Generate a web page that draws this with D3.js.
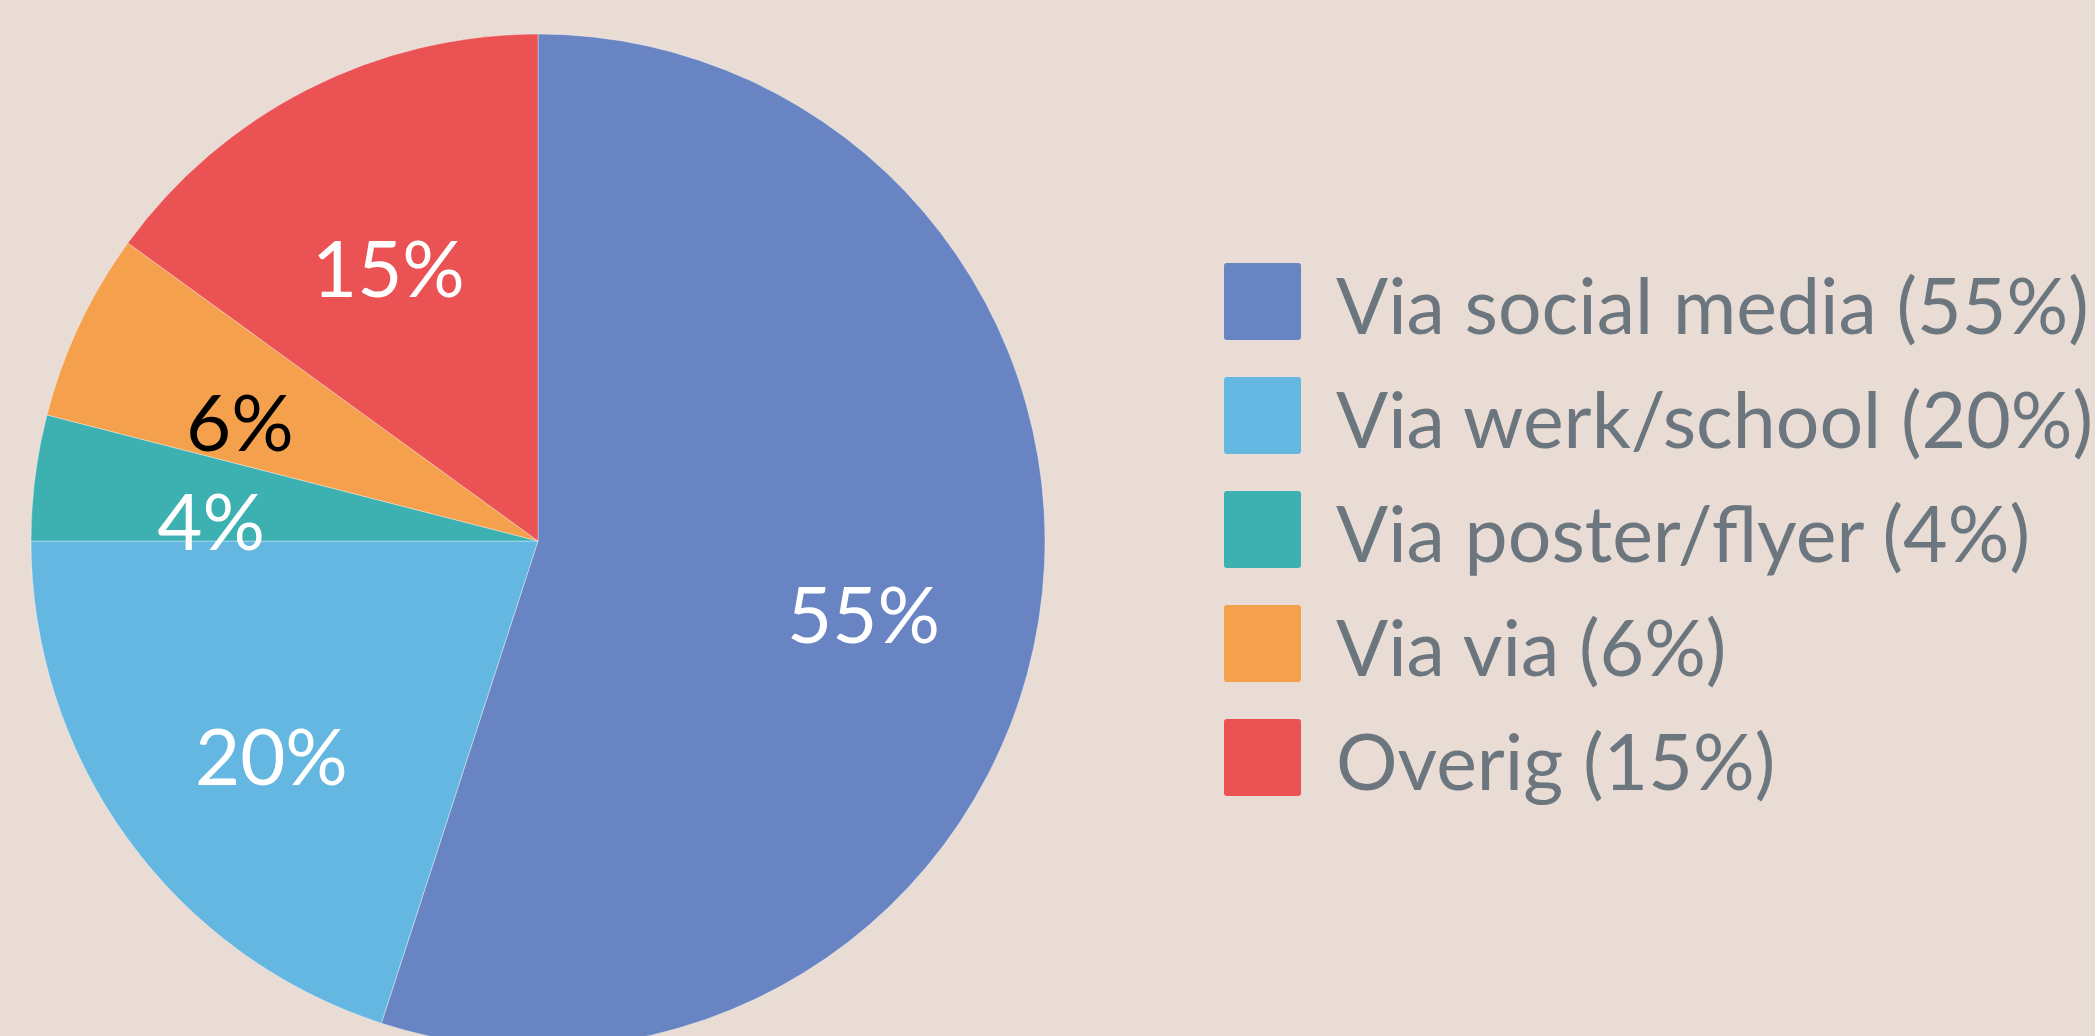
<!DOCTYPE html>
<html>
<head>
<meta charset="utf-8">
<script src="https://cdn.jsdelivr.net/npm/d3@7"></script>
<style>
  html, body { margin: 0; padding: 0; background: #e9dcd5; overflow: hidden; }
  svg { display: block; font-family: Lato, "Open Sans", sans-serif; }
</style>
</head>
<body>
<div id="chart"></div>
<script>
// Data
const labels = ["Via social media", "Via werk/school", "Via poster/flyer", "Via via", "Overig"];
const values = [55, 20, 4, 6, 15];
const colors = ["#6884c2", "#64b7e1", "#3db0b1", "#f5a04c", "#ea5254"];
const labelColors = ["#ffffff", "#ffffff", "#ffffff", "#000000", "#ffffff"];

const width = 2095, height = 1036;
const cx = 538, cy = 541, radius = 507;

const svg = d3.select("#chart")
  .append("svg")
    .attr("width", width)
    .attr("height", height);

const data = labels.map((l, i) => ({ label: l, value: values[i], color: colors[i], textColor: labelColors[i] }));

const pie = d3.pie().value(d => d.value).sort(null);
const arc = d3.arc().innerRadius(0).outerRadius(radius);
const labelArc = d3.arc().innerRadius(radius * 0.65).outerRadius(radius * 0.65);

const g = svg.append("g").attr("transform", `translate(${cx},${cy})`);

const arcs = pie(data);

// Taarten
g.selectAll("path")
  .data(arcs)
  .enter()
  .append("path")
    .attr("d", arc)
    .attr("fill", d => d.data.color)
    .attr("stroke", "#ffffff")
    .attr("stroke-opacity", 0.6)
    .attr("stroke-width", 0.6);

// Percentages
g.selectAll("text.pct")
  .data(arcs)
  .enter()
  .append("text")
    .attr("class", "pct")
    .attr("transform", d => {
      const [x, y] = labelArc.centroid(d);
      return `translate(${x},${y + 20})`;
    })
    .attr("text-anchor", "middle")
    .attr("dominant-baseline", "central")
    .style("font-size", "78px")
    .style("fill", d => d.data.textColor)
    .text(d => d.data.value + "%");

// Legenda
const legend = svg.append("g").attr("transform", "translate(1224, 263)");
const rowH = 114;

const rows = legend.selectAll("g")
  .data(data)
  .enter()
  .append("g")
    .attr("transform", (d, i) => `translate(0, ${i * rowH})`);

rows.append("rect")
  .attr("width", 77)
  .attr("height", 77)
  .attr("rx", 3)
  .attr("fill", d => d.color);

rows.append("text")
  .attr("x", 112)
  .attr("y", 71)
  .style("font-size", "77px")
  .style("fill", "#6c767e")
  .text(d => `${d.label} (${d.value}%)`);
</script>
</body>
</html>
